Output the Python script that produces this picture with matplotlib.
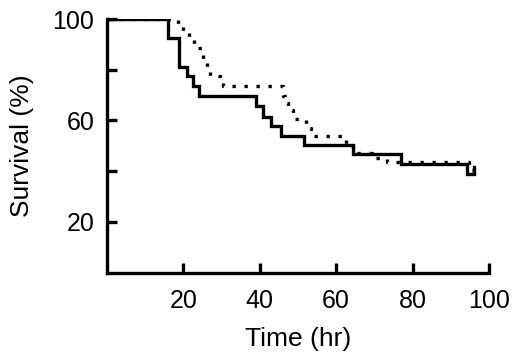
import matplotlib
matplotlib.use("Agg")
import matplotlib.pyplot as plt

# Kaplan-Meier style survival curves
solid_t = [0, 16, 19, 21, 22.6, 24.2, 39.1, 40.9, 43, 45.7, 51.7, 64.5, 77, 94.3, 96, 96]
solid_s = [100, 92.5, 81, 77.5, 73.5, 69.5, 65.5, 61.5, 57.7, 54, 50.4, 46.8, 43, 39, 39, 41.5]

dot_t = [0, 18.5, 20, 21.5, 22.8, 24.8, 25.2, 26.1, 26.9, 29.7, 30.4, 46.1, 46.6,
         47.4, 48.7, 52.2, 53.5, 62.6, 64.5, 69.5, 73.2, 94.8, 96]
dot_s = [100, 97, 95, 92, 88.7, 87, 83.5, 80.7, 77.4, 76, 73.7, 69.5, 66.9,
         64.3, 60.5, 57, 54, 50.5, 47, 45.2, 43.6, 40.5, 40.5]

xticks = [20, 40, 60, 80, 100]
yticks = [20, 40, 60, 80, 100]
ytick_labels = ["20", "", "60", "", "100"]

plt.rcParams['font.family'] = ['Liberation Sans', 'DejaVu Sans']

fig = plt.figure(figsize=(5.2, 3.62), dpi=100)
ax = fig.add_axes([0.2054, 0.247, 0.735, 0.7005])

ax.step(solid_t, solid_s, where='post', color='black', lw=2.4, solid_joinstyle='miter')
ax.step(dot_t, dot_s, where='post', color='black', lw=2.4,
        linestyle=(0, (1, 2.6)), dash_capstyle='butt')

ax.set_xlim(0, 100)
ax.set_ylim(0, 100)
ax.set_xticks(xticks)
ax.set_yticks(yticks)
ax.set_yticklabels(ytick_labels)

for side in ['top', 'right']:
    ax.spines[side].set_visible(False)
for side in ['left', 'bottom']:
    ax.spines[side].set_linewidth(2.4)

ax.tick_params(direction='in', length=7, width=2.4, labelsize=18)
ax.tick_params(axis='x', pad=12)
ax.tick_params(axis='y', pad=9)

ax.set_xlabel("Time (hr)", fontsize=19, labelpad=10)
ax.set_ylabel("Survival (%)", fontsize=19, labelpad=13)

fig.savefig("out.png", dpi=100)
